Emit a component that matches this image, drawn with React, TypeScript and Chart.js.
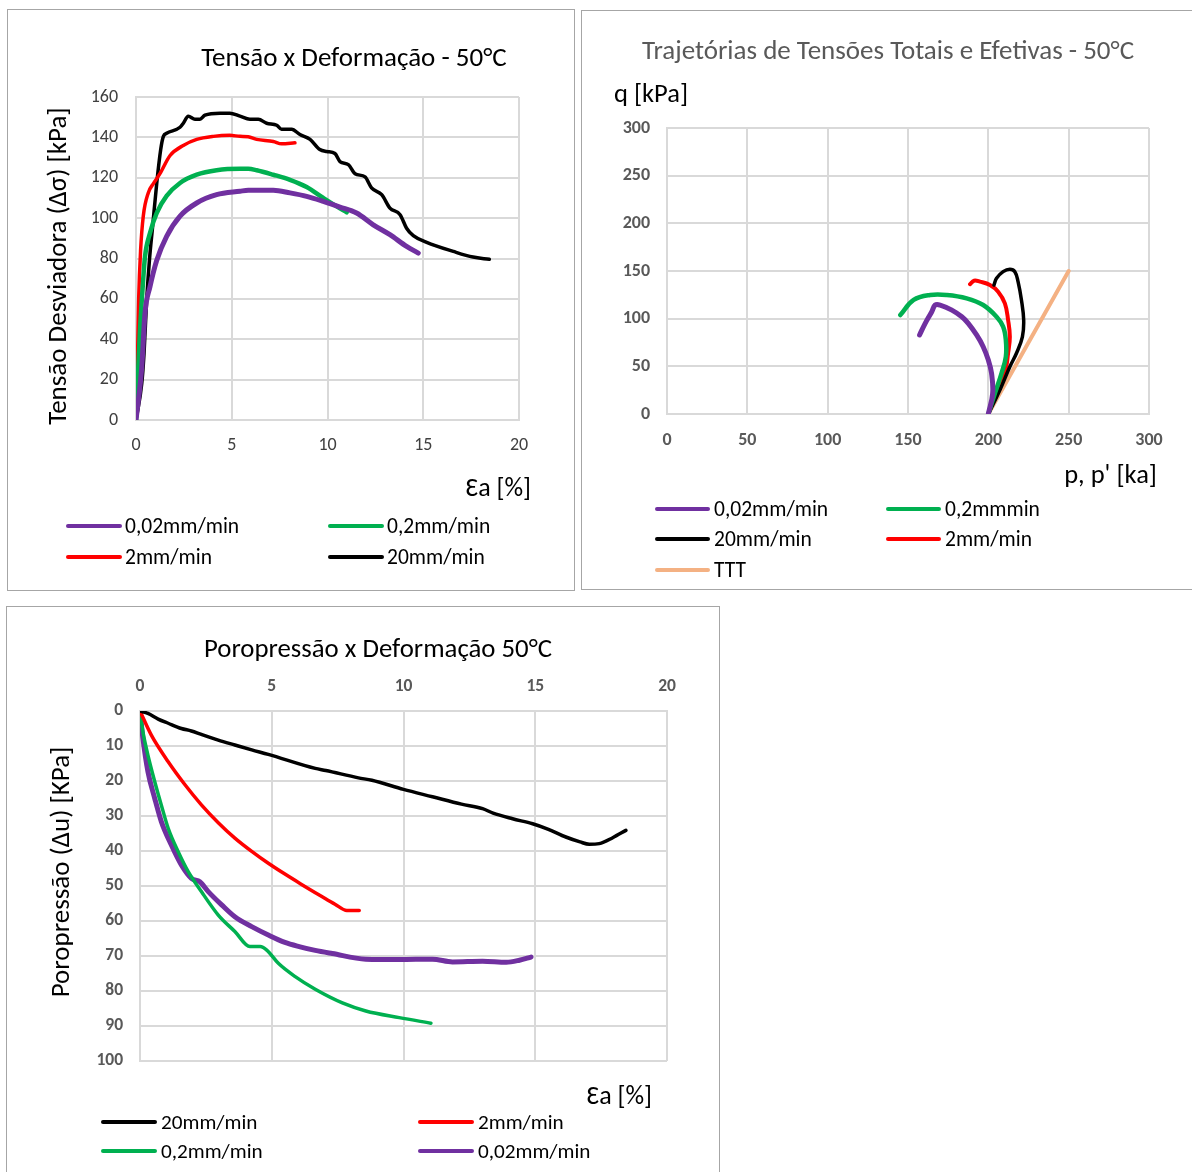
import React, { useEffect, useRef } from "react";
import { Chart, registerables } from "chart.js";

Chart.register(...registerables);

const FONT = "Calibri, Carlito, Lato, 'Open Sans', sans-serif";

// ---------- Panel 1: Tensão x Deformação ----------
const devStrain20 = [0, 0.3, 0.42, 0.56, 0.7, 0.87, 1.08, 1.29, 1.43, 1.6, 2.3, 2.47, 2.73, 3.08, 3.34, 3.6, 4.39, 4.9, 5.43, 5.95, 6.39, 6.82, 7.35, 7.6, 8.13, 8.56, 9.09, 9.6, 9.96, 10.39, 10.65, 11.09, 11.44, 11.96, 12.3, 12.83, 13.26, 13.79, 14.13, 14.48, 15.18, 16.57, 17.6, 18.45];
const dev20 = [0, 18, 33, 60, 79, 96, 117, 134, 140.5, 142, 145, 147, 150.5, 149, 149, 151, 152, 152, 150.5, 149, 149, 147, 146, 144, 144, 141.4, 139, 134, 133, 132, 128, 126.5, 122, 120.4, 115, 111.6, 105, 101.7, 95, 91.3, 88, 83.5, 80.7, 79.6];

const devStrain2 = [0, 0.07, 0.14, 0.24, 0.38, 0.64, 0.9, 1.25, 1.78, 2.47, 3.17, 4.04, 4.9, 5.43, 5.86, 6.3, 7.17, 7.6, 8.3];
const dev2 = [0, 26, 60, 84, 101, 112.5, 117, 122, 131, 136, 139, 140.5, 141, 140.5, 140.3, 139, 138, 136.8, 137.3];

const devStrain02 = [0, 0.2, 0.35, 0.47, 0.73, 1.08, 1.6, 2.3, 3.17, 4.21, 5.43, 5.86, 6.3, 7.17, 8.04, 8.91, 9.78, 10.48, 11.0];
const dev02 = [0, 43, 66, 81, 92.6, 102.5, 111, 117.4, 121.5, 123.7, 124.4, 124.4, 123.7, 121.5, 119, 115.4, 110, 105.8, 102.9];

const devStrain002 = [0, 0.3, 0.47, 0.73, 1.08, 1.6, 2.3, 3.17, 4.21, 5.43, 5.86, 7.17, 8.04, 8.91, 9.78, 10.65, 11.52, 12.39, 13.26, 14.13, 14.74];
const dev002 = [0, 26, 53, 66, 79, 91, 101, 107.5, 111.6, 113.3, 113.8, 113.8, 112.5, 110.8, 108.3, 105.5, 102.5, 96.7, 91.8, 86, 82.7];

// ---------- Panel 2: Trajetórias de tensões (p, q) ----------
const pTTT = [200, 250];
const qTTT = [0, 150];
const p20 = [200, 207.2, 213.4, 217.5, 221.2, 222, 220.6, 218.5, 216.5, 213.4, 209.2, 205.1, 203.5];
const q20 = [0, 25.2, 49.6, 63.7, 81, 98.6, 119.6, 138.8, 149.3, 151.8, 149.3, 142.3, 135.3];
const p2 = [200, 205.1, 210.3, 212.3, 213.4, 212.3, 210.3, 206.1, 201, 194.8, 191.1, 188.6];
const q2 = [0, 21.7, 42.7, 63.7, 81, 98.6, 116, 128.3, 135.3, 138.8, 139.8, 136.2];
const p02 = [200, 204.1, 208.2, 210.9, 210.9, 209.2, 205.1, 196.8, 186.5, 174.2, 163.8, 153.5, 145.2];
const q02 = [0, 21.7, 42.7, 60, 77.6, 91.6, 102, 114.3, 121.3, 124.8, 124.8, 119.6, 103.8];
const p002 = [200, 202.7, 202.0, 200, 196.8, 192.7, 187.5, 183.5, 177.3, 170, 166.9, 164.8, 160.7, 157.2];
const q002 = [0, 21.7, 42.7, 56.6, 70.6, 82.9, 95.1, 102, 109, 114.3, 114.3, 107.3, 95.1, 82.9];

// ---------- Panel 3: Poropressão x Deformação ----------
const uStrain20 = [0, 0.3, 0.69, 1.07, 1.57, 1.95, 2.33, 2.97, 3.6, 4.24, 4.87, 6.65, 7.05, 8.29, 8.8, 10, 11.1, 12.2, 13.0, 13.4, 14.14, 14.9, 15.5, 16.16, 16.7, 17.05, 17.43, 17.94, 18.44];
const u20 = [0, 0.7, 2.3, 3.5, 5, 5.7, 6.7, 8.3, 9.7, 11.1, 12.4, 16.4, 17, 19.1, 19.8, 22.4, 24.5, 26.6, 27.9, 29.2, 30.8, 32.2, 33.8, 36, 37.4, 38.1, 37.9, 36.2, 34.1];
const uStrain2 = [0, 0.43, 1.07, 1.7, 2.33, 2.97, 3.6, 4.24, 4.87, 5.5, 6.1, 6.9, 7.4, 7.85, 8.32];
const u2 = [0, 6.9, 14.5, 21, 26.8, 31.9, 36.3, 40.1, 43.5, 46.6, 49.4, 53, 55.2, 57, 57];
const uStrain02 = [0, 0.11, 0.3, 0.56, 0.81, 1.07, 1.45, 1.83, 2.33, 2.97, 3.6, 4.17, 4.56, 4.81, 5.25, 5.89, 6.65, 7.68, 8.57, 9.84, 11.04];
const u02 = [0, 5.9, 12.6, 20.2, 26.9, 33.5, 40.2, 45.9, 51.6, 58.3, 63, 67.3, 67.3, 68.3, 72.1, 75.9, 79.5, 83.4, 85.7, 87.6, 89.2];
const uStrain002 = [0, 0.11, 0.3, 0.56, 0.81, 1.19, 1.57, 1.95, 2.27, 2.59, 3.1, 3.6, 4.24, 4.87, 5.5, 6.04, 6.65, 7.3, 8.57, 9.84, 11.1, 11.86, 13, 13.9, 14.4, 14.84];
const u002 = [0, 7.8, 17.3, 25, 31.6, 38.3, 44, 47.8, 48.8, 51.6, 55.4, 58.8, 61.6, 64, 66.1, 67.3, 68.4, 69.3, 70.9, 71, 70.9, 71.7, 71.5, 71.8, 71.2, 70.3];

const C_PURPLE = "#7030a0";
const C_GREEN = "#00b050";
const C_RED = "#ff0000";
const C_BLACK = "#000000";
const C_ORANGE = "#f4b183";

const pts = (xs: number[], ys: number[]) => xs.map((x, i) => ({ x, y: ys[i] }));

type TextItem = {
  text: string; x: number; y: number; size: number; weight?: string;
  color?: string; align?: CanvasTextAlign; rotate?: number;
};
type LegendCfg = {
  items: { ds: number; x: number; y: number }[];
  lineLen: number; gap: number; size: number; color: string; lineWidth: number; textDy: number;
};

const overlayPlugin = {
  id: "overlay",
  afterDraw(chart: any, _args: any, opts: any) {
    const ctx: CanvasRenderingContext2D = chart.ctx;
    (opts.texts || []).forEach((t: TextItem) => {
      ctx.save();
      ctx.translate(t.x, t.y);
      if (t.rotate) ctx.rotate(t.rotate);
      ctx.font = `${t.weight || "normal"} ${t.size}px ${FONT}`;
      ctx.fillStyle = t.color || "#000";
      ctx.textAlign = t.align || "center";
      ctx.textBaseline = "middle";
      ctx.fillText(t.text, 0, 0);
      ctx.restore();
    });
    const lg: LegendCfg | undefined = opts.legend;
    if (lg) {
      lg.items.forEach((it) => {
        const ds = chart.data.datasets[it.ds];
        ctx.save();
        ctx.strokeStyle = ds.borderColor;
        ctx.lineWidth = lg.lineWidth;
        ctx.lineCap = "round";
        ctx.beginPath();
        ctx.moveTo(it.x, it.y);
        ctx.lineTo(it.x + lg.lineLen, it.y);
        ctx.stroke();
        ctx.font = `normal ${lg.size}px ${FONT}`;
        ctx.fillStyle = lg.color;
        ctx.textAlign = "left";
        ctx.textBaseline = "middle";
        ctx.fillText(ds.label, it.x + lg.lineLen + lg.gap, it.y + lg.textDy);
        ctx.restore();
      });
    }
  },
};

const GRID = { color: "#d9d9d9", lineWidth: 2, drawTicks: false };
const BORDER = { color: "#d9d9d9", width: 2 };

function ds(label: string, data: any[], color: string, width: number, smooth = true) {
  return {
    label, data, borderColor: color, backgroundColor: color, borderWidth: width,
    showLine: true, pointRadius: 0, fill: false,
    cubicInterpolationMode: smooth ? "monotone" : "default", tension: smooth ? 0 : 0.4,
    borderCapStyle: "round", borderJoinStyle: "round",
  };
}

const baseOpts = (padding: any, overlay: any, scales: any) => ({
  animation: false,
  responsive: false,
  devicePixelRatio: 1,
  layout: { padding },
  plugins: { legend: { display: false }, tooltip: { enabled: false }, title: { display: false }, overlay },
  scales,
});

function config1() {
  return {
    type: "scatter",
    data: {
      datasets: [
        ds("0,02mm/min", pts(devStrain002, dev002), C_PURPLE, 5),
        ds("0,2mm/min", pts(devStrain02, dev02), C_GREEN, 4.5),
        ds("2mm/min", pts(devStrain2, dev2), C_RED, 3.5),
        ds("20mm/min", pts(devStrain20, dev20), C_BLACK, 3.5),
      ],
    },
    options: baseOpts(
      { left: 0, top: 87, right: 55, bottom: 0 },
      {
        texts: [
          { text: "Tensão x Deformação - 50°C", x: 346, y: 49, size: 27, color: "#000" },
          { text: "Tensão Desviadora (Δσ) [kPa]", x: 51, y: 256, size: 27, rotate: -Math.PI / 2 },
          { text: "Ɛa [%]", x: 523, y: 479, size: 26, align: "right" },
        ],
        legend: {
          items: [
            { ds: 0, x: 60, y: 516 }, { ds: 1, x: 322, y: 516 },
            { ds: 2, x: 60, y: 547 }, { ds: 3, x: 322, y: 547 },
          ],
          lineLen: 52, gap: 5, size: 21.5, color: "#000", lineWidth: 4, textDy: 2,
        },
      },
      {
        x: {
          type: "linear", min: 0, max: 20,
          ticks: { stepSize: 5, padding: 15, color: "#404040", font: { size: 18, family: FONT } },
          grid: GRID, border: BORDER,
          afterFit: (s: any) => { s.height = 170; },
        },
        y: {
          type: "linear", min: 0, max: 160,
          ticks: { stepSize: 20, padding: 18, color: "#404040", font: { size: 18, family: FONT } },
          grid: GRID, border: BORDER,
          afterFit: (s: any) => { s.width = 128; },
        },
      }
    ),
    plugins: [overlayPlugin],
  };
}

function config2() {
  return {
    type: "scatter",
    data: {
      datasets: [
        ds("0,02mm/min", pts(p002, q002), C_PURPLE, 5, false),
        ds("0,2mmmin", pts(p02, q02), C_GREEN, 4.5, false),
        ds("20mm/min", pts(p20, q20), C_BLACK, 3.5, false),
        ds("2mm/min", pts(p2, q2), C_RED, 4, false),
        ds("TTT", pts(pTTT, qTTT), C_ORANGE, 4, false),
      ],
    },
    options: baseOpts(
      { left: 0, top: 117, right: 43, bottom: 0 },
      {
        texts: [
          { text: "Trajetórias de Tensões Totais e Efetivas - 50°C", x: 306, y: 41, size: 27, color: "#595959" },
          { text: "q [kPa]", x: 32, y: 84, size: 26.5, align: "left" },
          { text: "p, p' [ka]", x: 575, y: 465, size: 26.5, align: "right" },
        ],
        legend: {
          items: [
            { ds: 0, x: 75, y: 498 }, { ds: 1, x: 306, y: 498 },
            { ds: 2, x: 75, y: 528 }, { ds: 3, x: 306, y: 528 },
            { ds: 4, x: 75, y: 559 },
          ],
          lineLen: 51, gap: 6, size: 21.5, color: "#000", lineWidth: 4, textDy: 2,
        },
      },
      {
        x: {
          type: "linear", min: 0, max: 300,
          ticks: { stepSize: 50, padding: 16, color: "#595959", font: { size: 18, weight: "bold", family: FONT } },
          grid: GRID, border: BORDER,
          afterFit: (s: any) => { s.height = 175; },
        },
        y: {
          type: "linear", min: 0, max: 300,
          ticks: { stepSize: 50, padding: 17, color: "#595959", font: { size: 18, weight: "bold", family: FONT } },
          grid: GRID, border: BORDER,
          afterFit: (s: any) => { s.width = 85; },
        },
      }
    ),
    plugins: [overlayPlugin],
  };
}

function config3() {
  return {
    type: "scatter",
    data: {
      datasets: [
        ds("20mm/min", pts(uStrain20, u20), C_BLACK, 3.5),
        ds("2mm/min", pts(uStrain2, u2), C_RED, 3.5),
        ds("0,2mm/min", pts(uStrain02, u02), C_GREEN, 3.5),
        ds("0,02mm/min", pts(uStrain002, u002), C_PURPLE, 5),
      ],
    },
    options: baseOpts(
      { left: 0, top: 0, right: 52, bottom: 111 },
      {
        texts: [
          { text: "Poropressão x Deformação 50°C", x: 371, y: 43, size: 26.8, color: "#000" },
          { text: "Poropressão (Δu) [KPa]", x: 55, y: 265, size: 27, rotate: -Math.PI / 2 },
          { text: "Ɛa [%]", x: 645, y: 490, size: 26, align: "right" },
        ],
        legend: {
          items: [
            { ds: 0, x: 96, y: 515 }, { ds: 1, x: 413, y: 515 },
            { ds: 2, x: 96, y: 544 }, { ds: 3, x: 413, y: 544 },
          ],
          lineLen: 52, gap: 6, size: 21.2, color: "#000", lineWidth: 4, textDy: 2,
        },
      },
      {
        x: {
          type: "linear", position: "top", min: 0, max: 20,
          ticks: { stepSize: 5, padding: 14, color: "#595959", font: { size: 17.5, weight: "bold", family: FONT } },
          grid: GRID, border: BORDER,
          afterFit: (s: any) => { s.height = 104; },
        },
        y: {
          type: "linear", reverse: true, min: 0, max: 100,
          ticks: { stepSize: 10, padding: 17, color: "#595959", font: { size: 17.5, weight: "bold", family: FONT } },
          grid: GRID, border: BORDER,
          afterFit: (s: any) => { s.width = 133; },
        },
      }
    ),
    plugins: [overlayPlugin],
  };
}

function Panel({ left, top, width, height, make }: { left: number; top: number; width: number; height: number; make: () => any }) {
  const ref = useRef<HTMLCanvasElement>(null);
  useEffect(() => {
    const chart = new Chart(ref.current as HTMLCanvasElement, make());
    return () => chart.destroy();
  }, []);
  return (
    <div style={{ position: "absolute", left, top, width, height, border: "1px solid #a6a6a6", background: "#fff" }}>
      <canvas ref={ref} width={width} height={height} style={{ display: "block", width, height }} />
    </div>
  );
}

export default function App() {
  return (
    <div style={{ position: "absolute", left: 0, top: 0, width: 1192, height: 1172, overflow: "hidden", background: "#fff", fontFamily: FONT }}>
      <Panel left={7} top={9} width={566} height={580} make={config1} />
      <Panel left={581} top={10} width={610} height={578} make={config2} />
      <Panel left={6} top={606} width={712} height={565} make={config3} />
    </div>
  );
}
